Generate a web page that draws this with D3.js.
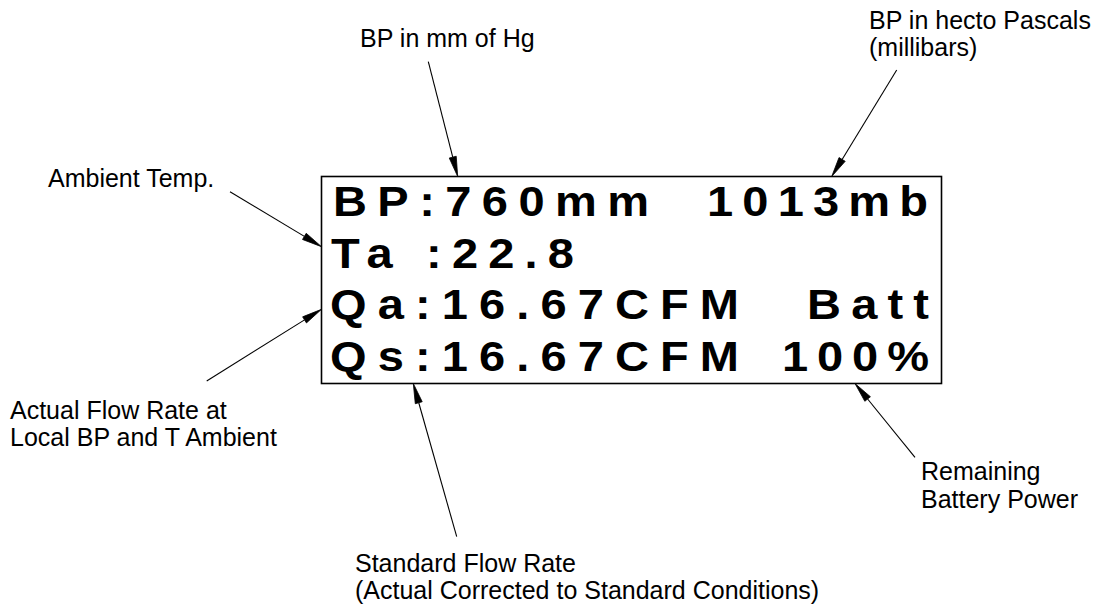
<!DOCTYPE html>
<html>
<head>
<meta charset="utf-8">
<script src="https://cdn.jsdelivr.net/npm/d3@7"></script>
<style>
  html, body { margin: 0; padding: 0; background: #fff; }
  svg { display: block; }
</style>
</head>
<body>
<svg id="chart" width="1099" height="605"></svg>
<script>
// ---- content ----
const lcdLeft = ["BP:760mm", "Ta :22.8", "Qa:16.67CFM", "Qs:16.67CFM"];
const lcdRight = ["1013mb", "", "Batt", "100%"];
const labels = [
  ["BP in mm of Hg"],
  ["BP in hecto Pascals", "(millibars)"],
  ["Ambient Temp."],
  ["Actual Flow Rate at", "Local BP and T Ambient"],
  ["Standard Flow Rate", "(Actual Corrected to Standard Conditions)"],
  ["Remaining", "Battery Power"]
];

// ---- layout ----
const box = { x: 321.5, y: 176.5, w: 620, h: 207 };
const rowBase = [216, 268, 319, 370.5];
const leftSpan = [[333, 649], [331, 574], [330, 739], [330, 739]];
const rightSpan = [[707, 928], null, [807, 929], [782, 929]];
const stretch = 1.12;
const labelPos = [[360, 46.5], [869, 28.5], [48, 187], [10, 418.5], [355, 571.5], [921, 480]];
const arrows = [
  [[428.3, 61.7], [457.7, 176.5]],
  [[896.7, 70], [831.7, 176.5]],
  [[230, 191.7], [321.5, 246.7]],
  [[206.7, 381], [321.5, 309.3]],
  [[456.7, 536.7], [413.3, 383.5]],
  [[915, 457.3], [855, 383.5]]
];

const svg = d3.select("#chart");
const FONT = "'Liberation Sans', Arial, Helvetica, sans-serif";

// LCD box
svg.append("rect")
  .attr("x", box.x).attr("y", box.y)
  .attr("width", box.w).attr("height", box.h)
  .attr("fill", "none").attr("stroke", "#000").attr("stroke-width", 1.6);

const lcd = svg.append("g")
  .attr("font-family", FONT).attr("font-weight", "bold")
  .attr("font-size", 42).attr("fill", "#000");

const segs = [];
lcdLeft.forEach((t, i) => { if (t) segs.push({ t, i, span: leftSpan[i] }); });
lcdRight.forEach((t, i) => { if (t) segs.push({ t, i, span: rightSpan[i] }); });

lcd.selectAll("text").data(segs).join("text")
  .attr("transform", d => `translate(${d.span[0]},${rowBase[d.i]}) scale(${stretch},1)`)
  .attr("x", 0).attr("y", 0)
  .attr("textLength", d => (d.span[1] - d.span[0]) / stretch)
  .attr("lengthAdjust", "spacing")
  .text(d => d.t);

// labels
const lab = svg.append("g")
  .attr("font-family", FONT).attr("font-size", 25).attr("fill", "#000");
labels.forEach((lines, i) => {
  const t = lab.append("text").attr("x", labelPos[i][0]).attr("y", labelPos[i][1]);
  lines.forEach((ln, j) => {
    t.append("tspan").attr("x", labelPos[i][0]).attr("dy", j === 0 ? 0 : 27.5).text(ln);
  });
});

// arrows
const ag = svg.append("g");
const headLen = 20, headHalf = 3.6;
arrows.forEach(([a, b]) => {
  const dx = b[0] - a[0], dy = b[1] - a[1];
  const L = Math.hypot(dx, dy);
  const ux = dx / L, uy = dy / L;
  const bx = b[0] - ux * headLen, by = b[1] - uy * headLen;
  ag.append("line")
    .attr("x1", a[0]).attr("y1", a[1]).attr("x2", bx).attr("y2", by)
    .attr("stroke", "#000").attr("stroke-width", 1.1);
  const pts = [
    [b[0], b[1]],
    [bx - uy * headHalf, by + ux * headHalf],
    [bx + uy * headHalf, by - ux * headHalf]
  ];
  ag.append("path")
    .attr("d", d3.line()(pts) + "Z")
    .attr("fill", "#000").attr("stroke", "#000").attr("stroke-width", 0.8)
    .attr("stroke-linejoin", "miter");
});
</script>
</body>
</html>
